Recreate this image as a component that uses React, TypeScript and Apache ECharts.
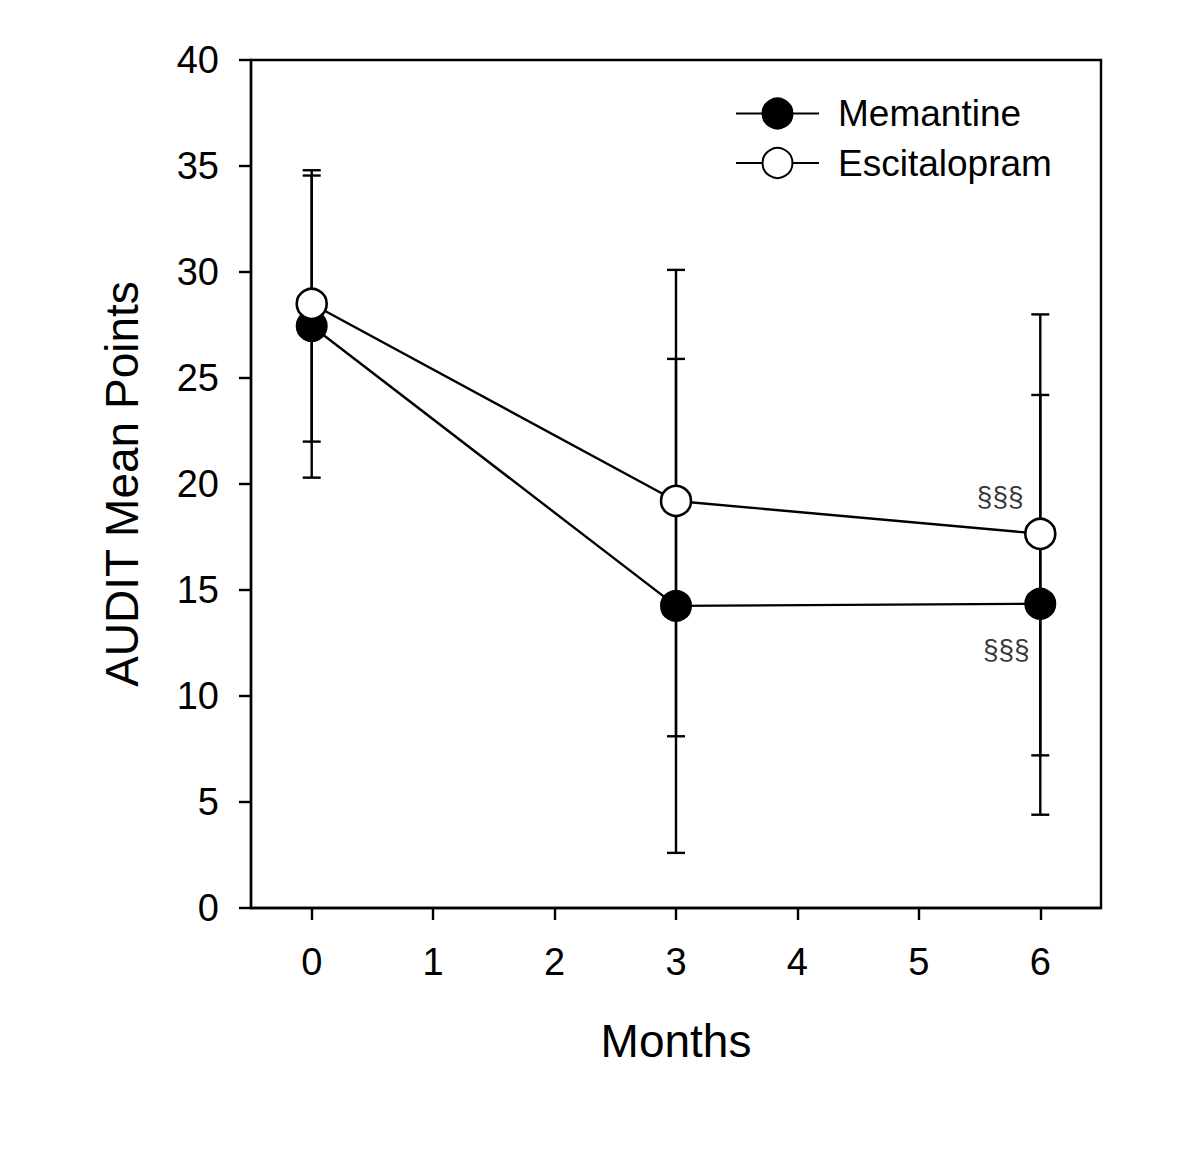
import React, { useEffect, useRef } from "react";
import * as echarts from "echarts";

const months = [0, 3, 6];
const memantineMean = [27.45, 14.25, 14.35];
const memantineLow = [20.3, 2.6, 4.4];
const memantineHigh = [34.55, 25.9, 24.2];
const escitalopramMean = [28.5, 19.2, 17.65];
const escitalopramLow = [22.0, 8.1, 7.2];
const escitalopramHigh = [34.8, 30.1, 28.0];
const xTickValues = [0, 1, 2, 3, 4, 5, 6];
const annotX = [5.67, 5.72];
const annotY = [19.4, 12.2];
const annotText = ["§§§", "§§§"];

const FONT = "Liberation Sans, Arial, sans-serif";

export default function App() {
  const ref = useRef<HTMLDivElement>(null);
  useEffect(() => {
    if (!ref.current) return;
    const chart = echarts.init(ref.current, null, { renderer: "svg" });
    const errData = (lo: number[], hi: number[]) =>
      months.map((m, i) => [m, lo[i], hi[i]]);
    const renderErr = (params: any, api: any) => {
      const x = api.value(0);
      const pLo = api.coord([x, api.value(1)]);
      const pHi = api.coord([x, api.value(2)]);
      const h = 9;
      const st = { stroke: "#000", lineWidth: 2.4 };
      return {
        type: "group",
        children: [
          { type: "line", shape: { x1: pLo[0], y1: pLo[1], x2: pHi[0], y2: pHi[1] }, style: st },
          { type: "line", shape: { x1: pLo[0] - h, y1: pLo[1], x2: pLo[0] + h, y2: pLo[1] }, style: st },
          { type: "line", shape: { x1: pHi[0] - h, y1: pHi[1], x2: pHi[0] + h, y2: pHi[1] }, style: st },
        ],
      };
    };
    chart.setOption({
      animation: false,
      backgroundColor: "#fff",
      textStyle: { fontFamily: FONT, color: "#000" },
      grid: {
        left: 251,
        right: 99,
        top: 60,
        bottom: 264,
        show: true,
        borderColor: "#000",
        borderWidth: 2.4,
        containLabel: false,
      },
      legend: {
        data: ["Memantine", "Escitalopram"],
        orient: "vertical",
        left: 735,
        top: 95,
        padding: 0,
        itemWidth: 83,
        itemHeight: 37.5,
        itemGap: 12.5,
        textStyle: { fontFamily: FONT, fontSize: 37, color: "#000", padding: [0, 0, 0, 14] },
      },
      xAxis: {
        type: "value",
        min: -0.5,
        max: 6.5,
        name: "Months",
        nameLocation: "middle",
        nameGap: 110,
        nameTextStyle: { fontFamily: FONT, fontSize: 46, color: "#000" },
        axisLine: { show: true, onZero: false, lineStyle: { color: "#000", width: 2.4 } },
        axisTick: {
          show: true,
          inside: false,
          length: 12,
          lineStyle: { color: "#000", width: 2.4 },
          customValues: xTickValues,
        },
        axisLabel: {
          show: true,
          margin: 35,
          fontFamily: FONT,
          fontSize: 38,
          color: "#000",
          customValues: xTickValues,
          formatter: (v: number) => String(v),
        },
        splitLine: { show: false },
      },
      yAxis: {
        type: "value",
        min: 0,
        max: 40,
        interval: 5,
        name: "AUDIT Mean Points",
        nameLocation: "middle",
        nameGap: 106,
        nameTextStyle: { fontFamily: FONT, fontSize: 46, color: "#000" },
        axisLine: { show: true, onZero: false, lineStyle: { color: "#000", width: 2.4 } },
        axisTick: { show: true, inside: false, length: 12, lineStyle: { color: "#000", width: 2.4 } },
        axisLabel: { margin: 32, fontFamily: FONT, fontSize: 38, color: "#000" },
        splitLine: { show: false },
      },
      series: [
        {
          name: "MemantineErr",
          type: "custom",
          renderItem: renderErr,
          data: errData(memantineLow, memantineHigh),
          z: 1,
          silent: true,
        },
        {
          name: "EscitalopramErr",
          type: "custom",
          renderItem: renderErr,
          data: errData(escitalopramLow, escitalopramHigh),
          z: 1,
          silent: true,
        },
        {
          name: "Memantine",
          type: "line",
          data: months.map((m, i) => [m, memantineMean[i]]),
          symbol: "circle",
          symbolSize: 30,
          lineStyle: { color: "#000", width: 2.4 },
          itemStyle: { color: "#000", borderColor: "#000", borderWidth: 2 },
          z: 3,
        },
        {
          name: "Escitalopram",
          type: "line",
          data: months.map((m, i) => [m, escitalopramMean[i]]),
          symbol: "circle",
          symbolSize: 30,
          lineStyle: { color: "#000", width: 2.4 },
          itemStyle: { color: "#fff", borderColor: "#000", borderWidth: 2.6 },
          z: 4,
        },
        {
          name: "Annotations",
          type: "scatter",
          data: annotX.map((x, i) => ({ value: [x, annotY[i]], name: annotText[i] })),
          symbolSize: 0,
          label: {
            show: true,
            position: "inside",
            formatter: (p: any) => p.name,
            fontFamily: FONT,
            fontSize: 28,
            color: "#000",
            textBorderWidth: 0,
          },
          z: 5,
          silent: true,
        },
      ],
    });
    return () => chart.dispose();
  }, []);
  return (
    <div
      ref={ref}
      style={{ position: "fixed", left: 0, top: 0, width: 1200, height: 1172, background: "#fff" }}
    />
  );
}
